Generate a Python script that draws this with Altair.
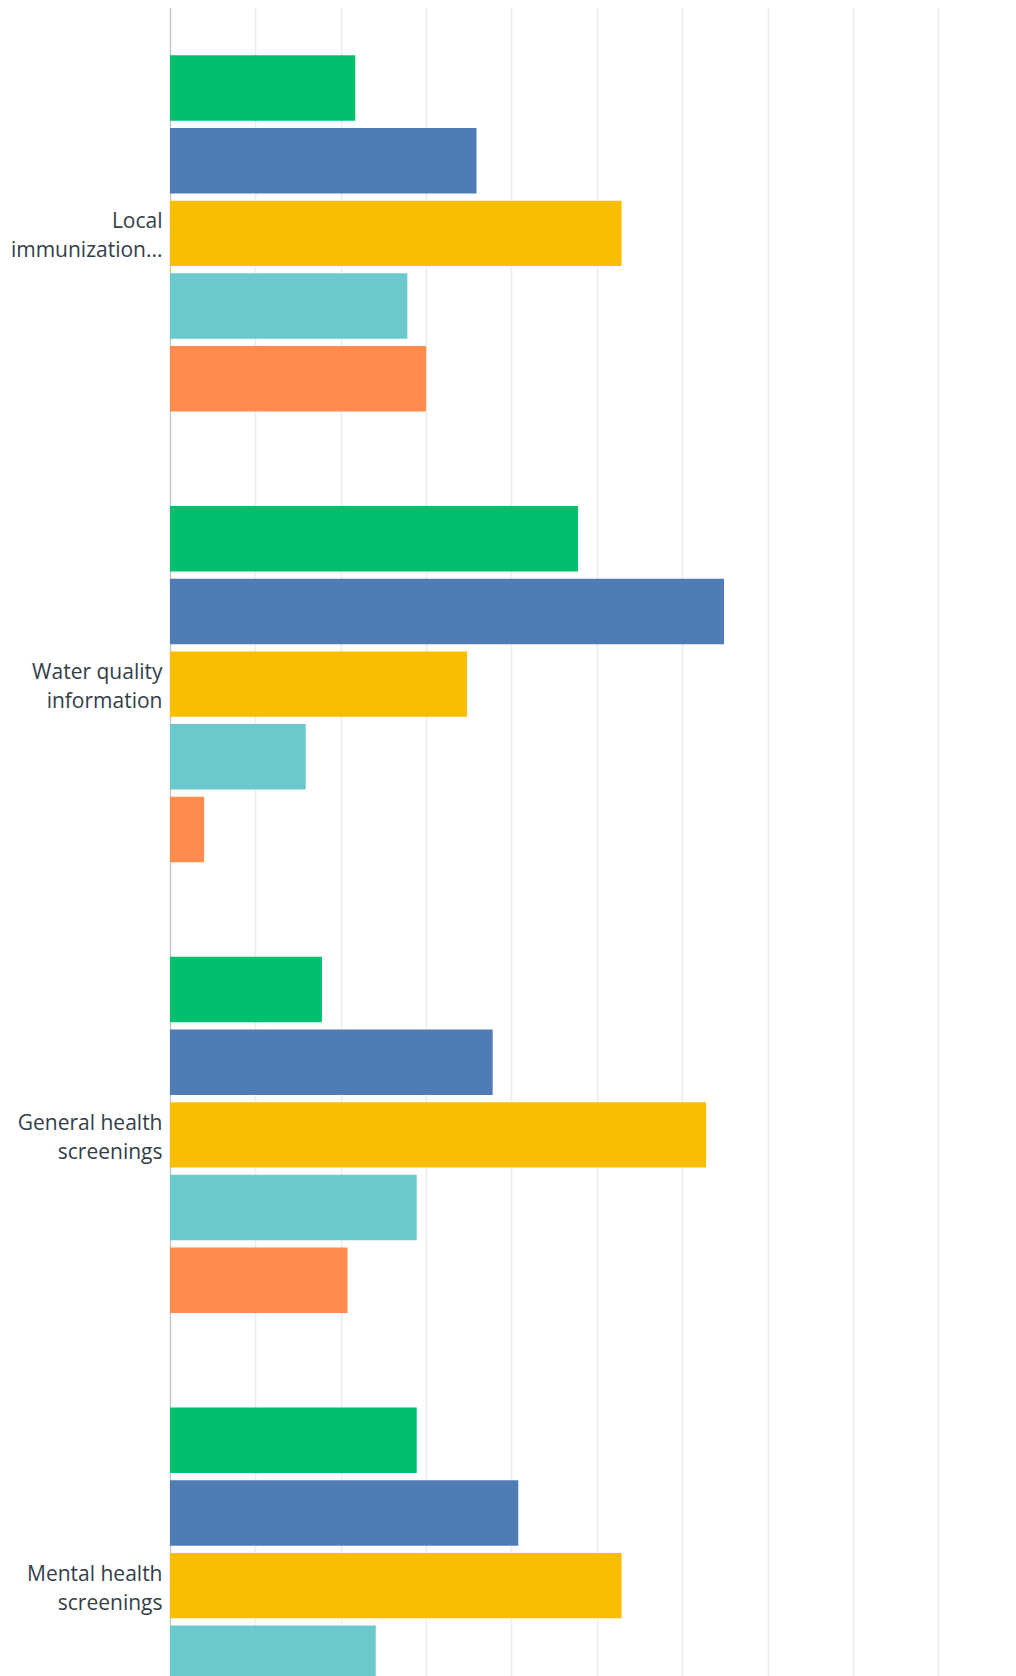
import altair as alt
import pandas as pd

categories = [
    "Local immunization...",
    "Water quality information",
    "General health screenings",
    "Mental health screenings",
]
series = ["Option 1", "Option 2", "Option 3", "Option 4", "Option 5"]
colors = ["#00bf6f", "#507cb6", "#f9be00", "#6bc8cd", "#ff8b4f"]

values_1 = [21.7, 47.8, 17.8, 28.9]
values_2 = [35.9, 64.9, 37.8, 40.8]
values_3 = [52.9, 34.8, 62.8, 52.9]
values_4 = [27.8, 15.9, 28.9, 24.1]
values_5 = [30.0, 4.0, 20.8, 20.0]

x_ticks = [0, 10, 20, 30, 40, 50, 60, 70, 80, 90]

rows = []
for s, vals in zip(series, [values_1, values_2, values_3, values_4, values_5]):
    for c, v in zip(categories, vals):
        rows.append({"category": c, "series": s, "value": v})
df = pd.DataFrame(rows)

label_expr = (
    "[slice(datum.label, 0, lastindexof(datum.label, ' ')), "
    "slice(datum.label, lastindexof(datum.label, ' ') + 1)]"
)

chart = (
    alt.Chart(df)
    .mark_bar(clip=True)
    .encode(
        y=alt.Y(
            "category:N",
            sort=categories,
            scale=alt.Scale(range=[0, 1803], paddingInner=0.21, paddingOuter=0.105),
            axis=alt.Axis(
                title=None,
                domain=False,
                ticks=False,
                labelPadding=8,
                labelFont="Open Sans",
                labelFontSize=21,
                labelColor="#333e48",
                labelLineHeight=29,
                labelOffset=-11,
                labelLimit=0,
                labelExpr=label_expr,
            ),
        ),
        yOffset=alt.YOffset(
            "series:N", sort=series, scale=alt.Scale(paddingInner=0.1, paddingOuter=0)
        ),
        x=alt.X(
            "value:Q",
            scale=alt.Scale(domain=[0, 95], nice=False, zero=True),
            axis=alt.Axis(
                values=x_ticks,
                labels=False,
                ticks=False,
                domain=False,
                title=None,
                gridColor={
                    "condition": {"test": "datum.value === 0", "value": "#c8c8c8"},
                    "value": "#ececec",
                },
                gridWidth=1.5,
            ),
        ),
        color=alt.Color(
            "series:N", scale=alt.Scale(domain=series, range=colors), legend=None
        ),
    )
    .properties(
        width=811,
        height=1668,
        autosize=alt.AutoSizeParams(type="none"),
        padding={"left": 162, "top": 0, "right": 0, "bottom": 0},
    )
    .configure_view(stroke=None)
)

chart.save("out.html", embed_options={"renderer": "svg", "actions": False})
